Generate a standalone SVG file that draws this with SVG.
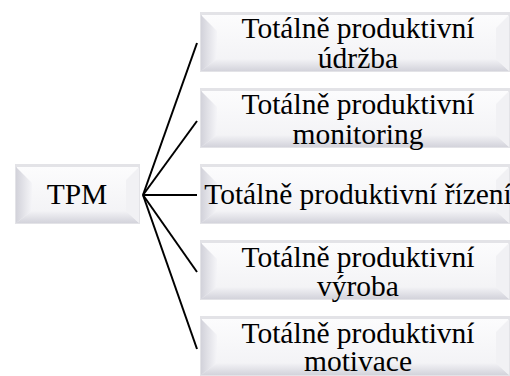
<svg xmlns="http://www.w3.org/2000/svg" width="510" height="376" viewBox="0 0 510 376">
<defs>
<linearGradient id="face" x1="0" y1="0" x2="0" y2="1"><stop offset="0" stop-color="#fcfcfd"/><stop offset="1" stop-color="#f1f1f4"/></linearGradient>
<linearGradient id="lb" x1="0" y1="0" x2="1" y2="0"><stop offset="0" stop-color="#d2d2da"/><stop offset="1" stop-color="#f5f5f8"/></linearGradient>
<linearGradient id="bb" x1="0" y1="0" x2="0" y2="1"><stop offset="0" stop-color="#f3f3f6"/><stop offset="1" stop-color="#d3d3db"/></linearGradient>
<style>
.frame{fill:#e3e3e7}
.face{fill:url(#face)}
.lb{fill:url(#lb)}
.bb{fill:url(#bb)}
.rb{fill:#f1f1f4}
.t{font-size:29.5px;fill:#000;text-anchor:middle}
.c{stroke:#000;stroke-width:2;fill:none}
</style>
</defs>
<rect width="510" height="376" fill="#fff"/>
<g font-family="Liberation Serif, Times New Roman, DejaVu Serif, serif">
<g id="tpm" transform="translate(15,164)">
<rect class="frame" width="125" height="60"/>
<rect class="face" x="2" y="3" width="121" height="56"/>
<polygon class="lb" points="1,3 17,19 17,47 1,59"/>
<polygon class="bb" points="1,59 17,47 111,47 124,59"/>
<polygon class="rb" points="124,3 111,16 111,47 124,59"/>
<text class="t" x="62" y="40">TPM</text>
</g>
<g id="n1" transform="translate(200,12)">
<rect class="frame" width="310" height="60"/>
<rect class="face" x="2" y="3" width="306" height="56"/>
<polygon class="lb" points="1,3 17,19 17,47 1,59"/>
<polygon class="bb" points="1,59 17,47 296,47 309,59"/>
<polygon class="rb" points="309,3 296,16 296,47 309,59"/>
<text class="t" x="158" y="26">Totálně produktivní</text>
<text class="t" x="158" y="56">údržba</text>
</g>
<g id="n2" transform="translate(200,88)">
<rect class="frame" width="310" height="60"/>
<rect class="face" x="2" y="3" width="306" height="56"/>
<polygon class="lb" points="1,3 17,19 17,47 1,59"/>
<polygon class="bb" points="1,59 17,47 296,47 309,59"/>
<polygon class="rb" points="309,3 296,16 296,47 309,59"/>
<text class="t" x="158" y="26">Totálně produktivní</text>
<text class="t" x="158" y="56">monitoring</text>
</g>
<g id="n3" transform="translate(200,164)">
<rect class="frame" width="310" height="60"/>
<rect class="face" x="2" y="3" width="306" height="56"/>
<polygon class="lb" points="1,3 17,19 17,47 1,59"/>
<polygon class="bb" points="1,59 17,47 296,47 309,59"/>
<polygon class="rb" points="309,3 296,16 296,47 309,59"/>
<text class="t" x="158" y="40">Totálně produktivní řízení</text>
</g>
<g id="n4" transform="translate(200,240)">
<rect class="frame" width="310" height="60"/>
<rect class="face" x="2" y="3" width="306" height="56"/>
<polygon class="lb" points="1,3 17,19 17,47 1,59"/>
<polygon class="bb" points="1,59 17,47 296,47 309,59"/>
<polygon class="rb" points="309,3 296,16 296,47 309,59"/>
<text class="t" x="158" y="27">Totálně produktivní</text>
<text class="t" x="158" y="56">výroba</text>
</g>
<g id="n5" transform="translate(200,316)">
<rect class="frame" width="310" height="60"/>
<rect class="face" x="2" y="3" width="306" height="56"/>
<polygon class="lb" points="1,3 17,19 17,47 1,59"/>
<polygon class="bb" points="1,59 17,47 296,47 309,59"/>
<polygon class="rb" points="309,3 296,16 296,47 309,59"/>
<text class="t" x="158" y="27">Totálně produktivní</text>
<text class="t" x="158" y="55">motivace</text>
</g>
</g>
<g id="connectors">
<line class="c" x1="143" y1="195" x2="197" y2="43"/>
<line class="c" x1="143" y1="195" x2="197" y2="121"/>
<line class="c" x1="143" y1="195" x2="197" y2="195"/>
<line class="c" x1="143" y1="195" x2="197" y2="272"/>
<line class="c" x1="143" y1="195" x2="197" y2="349"/>
</g>
</svg>
